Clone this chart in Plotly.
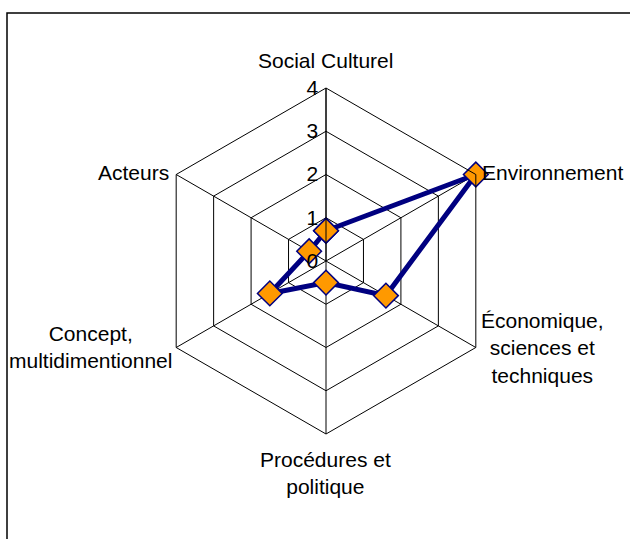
import plotly.graph_objects as go

categories = ['Social Culturel', 'Environnement', 'Économique, sciences et techniques',
              'Procédures et politique', 'Concept, multidimentionnel', 'Acteurs']
values = [0.7, 4.0, 1.6, 0.5, 1.5, 0.45]
radial_ticks = [0, 1, 2, 3, 4]

# how each category label is broken over lines, as in the original
label_text = ['Social Culturel', 'Environnement', 'Économique,<br>sciences et<br>techniques',
              'Procédures et<br>politique', 'Concept,<br>multidimentionnel', 'Acteurs']

fig = go.Figure()
fig.add_trace(go.Scatterpolar(
    r=values + values[:1],
    theta=categories + categories[:1],
    mode='lines+markers',
    line=dict(color='#000080', width=5),
    marker=dict(symbol='diamond', size=19, color='#FF9900',
                line=dict(color='#000080', width=1.5)),
    showlegend=False,
))

W, H = 630, 539
cx, cy, R = 326, 261, 173

# label placement in pixels (x, y, xanchor)
label_pos = [(325, 61, 'center'), (480, 172, 'left'), (542, 348, 'center'),
             (325, 473, 'center'), (91, 347, 'center'), (171, 172, 'right')]
annotations = [dict(text=t, x=px / W, y=1 - py / H, xref='paper', yref='paper',
                    xanchor=xa, yanchor='middle', showarrow=False, align='center',
                    font=dict(size=21))
               for t, (px, py, xa) in zip(label_text, label_pos)]

fig.update_layout(
    width=W, height=H,
    margin=dict(l=0, r=0, t=0, b=0),
    paper_bgcolor='white',
    font=dict(family='Liberation Sans, Arial, sans-serif', size=21, color='black'),
    polar=dict(
        domain=dict(x=[(cx - R) / W, (cx + R) / W], y=[(H - cy - R) / H, (H - cy + R) / H]),
        gridshape='linear',
        bgcolor='white',
        angularaxis=dict(
            rotation=90, direction='clockwise',
            showline=True, linecolor='black', linewidth=1,
            gridcolor='black', gridwidth=1,
            ticks='', showticklabels=False,
        ),
        radialaxis=dict(
            range=[0, 4], tickvals=radial_ticks, angle=90, tickangle=90,
            side='counterclockwise', ticksuffix='\u00a0\u00a0',
            showline=True, linecolor='black', linewidth=1,
            gridcolor='black', gridwidth=1,
            ticks='', tickfont=dict(size=21),
        ),
    ),
    annotations=annotations,
    shapes=[dict(type='rect', xref='paper', yref='paper',
                 x0=7 / W, x1=1.05, y0=-0.05, y1=(H - 13) / H,
                 line=dict(color='black', width=1.5), fillcolor='rgba(0,0,0,0)',
                 layer='below')],
)

# drop the default page margin so the figure sits at the window's corner
fig.write_html('out.html', config={'displayModeBar': False},
               post_script="document.body.style.margin='0';")
